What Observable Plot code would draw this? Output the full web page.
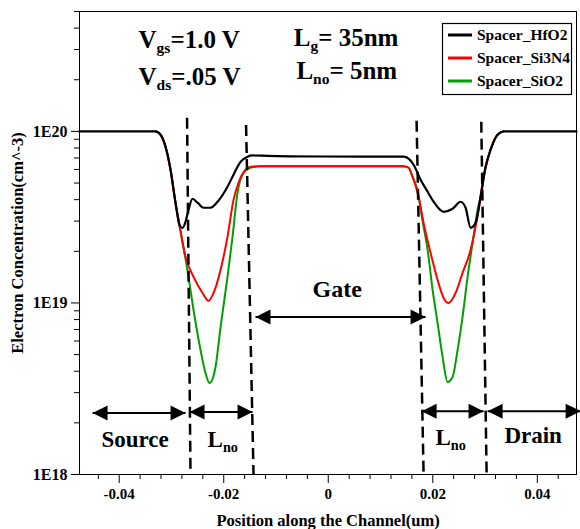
<!DOCTYPE html>
<html>
<head>
<meta charset="utf-8">
<script src="https://cdn.jsdelivr.net/npm/d3@7"></script>
<script src="https://cdn.jsdelivr.net/npm/@observablehq/plot@0.6"></script>
<style>
  html, body { margin: 0; padding: 0; background: white; }
  #chart { width: 580px; height: 529px; }
</style>
</head>
<body>
<div id="chart"></div>
<script>
// ---------- data (position in um, electron concentration in cm^-3) ----------
const seriesNames = ["Spacer_HfO2", "Spacer_Si3N4", "Spacer_SiO2"];
const seriesColors = ["#000000", "#ff0000", "#00a000"];

const hfX = [-0.0476,-0.03305,-0.03210,-0.03114,-0.03018,-0.02923,-0.02846,-0.02789,-0.02731,-0.02674,-0.02597,-0.02501,-0.02387,-0.02253,-0.02119,-0.01928,-0.01813,-0.01679,-0.01545,-0.01449,-0.01162,-0.00147,0.01441,0.01537,0.01633,0.01767,0.01901,0.02016,0.02207,0.02379,0.02532,0.02628,0.02724,0.02819,0.02915,0.03011,0.03106,0.03240,0.03355,0.0475];
const hfY = [1.0e20,1.0e20,9.57e19,8.14e19,5.98e19,3.84e19,2.85e19,2.74e19,2.97e19,3.49e19,4.05e19,3.84e19,3.59e19,3.59e19,3.89e19,4.76e19,5.59e19,6.65e19,7.12e19,7.24e19,7.20e19,7.14e19,7.12e19,6.93e19,6.39e19,5.22e19,4.45e19,3.89e19,3.40e19,3.54e19,3.89e19,3.59e19,2.74e19,2.93e19,4.16e19,6.22e19,7.82e19,9.57e19,1.0e20,1.0e20];

const snX = [-0.03305,-0.03210,-0.03114,-0.03018,-0.02923,-0.02865,-0.02731,-0.02578,-0.02406,-0.02291,-0.02195,-0.02061,-0.01928,-0.01813,-0.01717,-0.01583,-0.01487,-0.01296,0.01441,0.01537,0.01613,0.01728,0.01824,0.01958,0.02092,0.02207,0.02302,0.02436,0.02570,0.02724,0.02819,0.02877,0.02972,0.03049,0.03106,0.03240,0.03355];
const snY = [1e20,9.57e19,8.14e19,5.98e19,3.84e19,3.05e19,1.856e19,1.419e19,1.143e19,1.027e19,1.143e19,1.558e19,2.43e19,3.99e19,5.02e19,5.98e19,6.22e19,6.27e19,6.27e19,6.14e19,5.44e19,4.16e19,2.93e19,1.96e19,1.362e19,1.07e19,1.0e19,1.143e19,1.496e19,2.04e19,2.78e19,3.49e19,5.44e19,6.84e19,7.82e19,9.57e19,1e20];

const soX = [-0.03305,-0.03210,-0.03114,-0.03018,-0.02923,-0.02865,-0.02769,-0.02674,-0.02578,-0.02444,-0.02349,-0.02272,-0.02157,-0.02061,-0.01928,-0.01832,-0.01736,-0.01621,-0.01487,-0.01391,-0.01296,0.01441,0.01537,0.01613,0.01709,0.01805,0.01901,0.01997,0.02092,0.02188,0.02283,0.02379,0.02475,0.02570,0.02666,0.02762,0.02857,0.02915,0.03011,0.03106,0.03240,0.03355];
const soY = [1e20,9.57e19,8.14e19,5.98e19,3.84e19,3.05e19,2.1e19,1.419e19,9.10e18,5.32e18,3.90e18,3.41e18,4.23e18,7.24e18,1.419e19,2.43e19,4.39e19,5.74e19,6.14e19,6.22e19,6.27e19,6.27e19,6.14e19,5.44e19,4.5e19,3.0e19,2.04e19,1.19e19,7.64e18,4.84e18,3.46e18,3.70e18,5.32e18,8.29e18,1.419e19,2.24e19,3.49e19,4.16e19,6.22e19,7.82e19,9.57e19,1e20];

// axis ticks
const xMajorTicks = [-0.04, -0.02, 0, 0.02, 0.04];
const xMinorTicks = [-0.044,-0.036,-0.032,-0.028,-0.024,-0.016,-0.012,-0.008,-0.004,0.004,0.008,0.012,0.016,0.024,0.028,0.032,0.036,0.044];
const yMajorTicks = [1e18, 1e19, 1e20];
const yMinorTicks = [2e18,3e18,4e18,5e18,6e18,7e18,8e18,9e18,2e19,3e19,4e19,5e19,6e19,7e19,8e19,9e19,2e20,3e20,4e20,5e20];
const xLabel = "Position along the Channel(um)";
const yLabel = "Electron Concentration(cm^-3)";

// region boundaries (dashed lines)
const boundTopX = [-0.02702, -0.01573, 0.01690, 0.02928];
const boundBottomX = [-0.02636, -0.01430, 0.01824, 0.03030];
const boundTopY = [1.2e20, 1.09e20, 1.155e20, 1.14e20];
const boundBottomY = [1e18, 1e18, 1e18, 1e18];

// double-headed arrows
const arrowStartX = [-0.0451, -0.02655, -0.01392, 0.01786, 0.03049];
const arrowEndX = [-0.02731, -0.01449, 0.01862, 0.02972, 0.04829];
const arrowY = [2.28e18, 2.31e18, 8.28e18, 2.34e18, 2.34e18];

// region labels
const regionText = ["Source", "L_{no}", "L_{no}", "Drain"];
const regionX = [-0.0434, -0.0231, 0.0205, 0.0337];
const regionY = [1.44e18, 1.44e18, 1.48e18, 1.52e18];
const gateText = ["Gate"];
const gateX = [-0.0030];
const gateY = [1.08e19];

// bias / geometry annotations
const annoText = ["V_{gs}=1.0 V", "V_{ds}=.05 V", "L_{g}= 35nm", "L_{no}= 5nm"];
const annoX = [-0.0363, -0.0363, -0.0066, -0.0061];
const annoY = [3.08e20, 1.87e20, 3.16e20, 2.03e20];

// ---------- build ----------
const FONT = "'Liberation Serif', 'Times New Roman', serif";
const series = [
  {x: soX, y: soY, c: seriesColors[2], w: 2},
  {x: snX, y: snY, c: seriesColors[1], w: 2},
  {x: hfX, y: hfY, c: seriesColors[0], w: 2.2}
];

const arrowRight = {draw(ctx) { ctx.moveTo(0, 0); ctx.lineTo(-15, -7.5); ctx.lineTo(-15, 7.5); ctx.closePath(); }};
const arrowLeft = {draw(ctx) { ctx.moveTo(0, 0); ctx.lineTo(15, -7.5); ctx.lineTo(15, 7.5); ctx.closePath(); }};

const fmtX = d => d === 0 ? "0" : (d < 0 ? "-" : "") + Math.abs(d).toFixed(2);
const fmtY = d => "1E" + Math.round(Math.log10(d));

const marks = [
  Plot.frame({stroke: "#000", strokeWidth: 1}),
  Plot.axisX({ticks: xMinorTicks, tickSize: 5, tickFormat: () => "", label: null}),
  Plot.axisX({ticks: xMajorTicks, tickSize: 9, tickPadding: 5, tickFormat: fmtX, label: null, fontSize: 15}),
  Plot.axisY({ticks: yMinorTicks, tickSize: 5, tickFormat: () => "", label: null}),
  Plot.axisY({ticks: yMajorTicks, tickSize: 8, tickPadding: 4, tickFormat: fmtY, label: null, fontSize: 16}),
  Plot.text([xLabel], {frameAnchor: "bottom", text: d => d, dy: 51, lineAnchor: "bottom", textAnchor: "middle", fontSize: 16.5}),
  Plot.text([yLabel], {frameAnchor: "left", text: d => d, dx: -62, rotate: -90, textAnchor: "middle", fontSize: 16.5})
];
for (const s of series) {
  marks.push(Plot.line(s.x, {x: s.x, y: s.y, stroke: s.c, strokeWidth: s.w, curve: "monotone-x"}));
}
marks.push(
  Plot.link(boundTopX, {x1: boundTopX, y1: boundTopY, x2: boundBottomX, y2: boundBottomY, stroke: "black", strokeWidth: 2.5, strokeDasharray: "11,6"}),
  Plot.link(arrowStartX, {x1: arrowStartX, x2: arrowEndX, y1: arrowY, y2: arrowY, stroke: "black", strokeWidth: 2}),
  Plot.dot(arrowStartX, {x: arrowStartX, y: arrowY, symbol: arrowLeft, fill: "black", stroke: "none"}),
  Plot.dot(arrowEndX, {x: arrowEndX, y: arrowY, symbol: arrowRight, fill: "black", stroke: "none"}),
  Plot.text(regionText, {x: regionX, y: regionY, text: d => d, textAnchor: "start", lineAnchor: "bottom", fontSize: 23}),
  Plot.text(gateText, {x: gateX, y: gateY, text: d => d, textAnchor: "start", lineAnchor: "bottom", fontSize: 24}),
  Plot.text(annoText, {x: annoX, y: annoY, text: d => d, textAnchor: "start", lineAnchor: "bottom", fontSize: 25})
);

const plot = Plot.plot({
  width: 580,
  height: 529,
  marginLeft: 79,
  marginRight: 4,
  marginTop: 11,
  marginBottom: 55,
  x: {domain: [-0.0476, 0.0475]},
  y: {type: "log", domain: [1e18, 5e20]},
  style: {fontFamily: FONT, fontWeight: "bold", color: "black", background: "white", overflow: "visible"},
  marks
});

// subscripts: "_{...}"
d3.select(plot).selectAll("text").each(function() {
  const s = this.textContent;
  if (!s.includes("_{")) return;
  const el = d3.select(this);
  el.text(null);
  const re = /_\{([^}]*)\}/g;
  let last = 0, m, down = false;
  while ((m = re.exec(s))) {
    if (m.index > last) {
      el.append("tspan").attr("dy", down ? "-0.22em" : null).text(s.slice(last, m.index));
      down = false;
    }
    el.append("tspan").attr("font-size", "62%").attr("dy", "0.36em").text(m[1]);
    down = true;
    last = re.lastIndex;
  }
  if (last < s.length) el.append("tspan").attr("dy", down ? "-0.22em" : null).text(s.slice(last));
});

// legend box
const svg = d3.select(plot);
const lg = svg.append("g").attr("font-family", FONT).attr("font-weight", "bold")
  .attr("font-size", 15.5).attr("text-anchor", "start");
lg.append("rect").attr("x", 442.5).attr("y", 23.5).attr("width", 129).attr("height", 71)
  .attr("fill", "white").attr("stroke", "black").attr("stroke-width", 1.2);
seriesNames.forEach((name, i) => {
  const yy = 35 + 23 * i;
  lg.append("line").attr("x1", 448).attr("x2", 472).attr("y1", yy).attr("y2", yy)
    .attr("stroke", seriesColors[i]).attr("stroke-width", 3);
  lg.append("text").attr("x", 477).attr("y", yy).attr("dy", "0.35em").attr("fill", "black").text(name);
});

document.getElementById("chart").appendChild(plot);
</script>
</body>
</html>
